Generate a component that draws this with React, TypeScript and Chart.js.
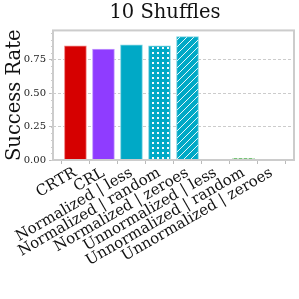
import React, { useEffect, useRef } from 'react';
import { Chart, registerables } from 'chart.js';
Chart.register(...registerables);

const chartTitle = '10 Shuffles';
const yTitle = 'Success Rate';
const categories = [
  'CRTR',
  'CRL',
  'Normalized | less',
  'Normalized | random',
  'Normalized | zeroes',
  'Unnormalized | less',
  'Unnormalized | random',
  'Unnormalized | zeroes',
];
const successRate = [0.855, 0.83, 0.863, 0.855, 0.923, 0, 0.012, 0];
const yTicks = [0, 0.25, 0.5, 0.75];
const yMinorStep = 0.05;
const baseColors = ['#d60000', '#8f3cff', '#00a9c6', '#00a9c6', '#00a9c6', '#4cb04c', '#4cb04c', '#4cb04c'];
const edgeColors = ['#f08080', '#c49bff', '#7fd4e2', '#7fd4e2', '#7fd4e2', '#a5d8a5', '#a5d8a5', '#a5d8a5'];
const patterns = ['solid', 'solid', 'solid', 'dots', 'hatch', 'solid', 'dots', 'hatch'];

function makePattern(kind: string, color: string): CanvasPattern | string {
  if (kind === 'solid') return color;
  const c = document.createElement('canvas');
  const ctx = c.getContext('2d')!;
  if (kind === 'dots') {
    c.width = 5; c.height = 5;
    ctx.fillStyle = color; ctx.fillRect(0, 0, 5, 5);
    ctx.fillStyle = 'rgba(255,255,255,0.95)';
    ctx.fillRect(2, 2, 2, 2);
  } else {
    c.width = 7; c.height = 7;
    ctx.fillStyle = color; ctx.fillRect(0, 0, 7, 7);
    ctx.strokeStyle = 'rgba(255,255,255,0.9)';
    ctx.lineWidth = 1;
    ctx.beginPath();
    ctx.moveTo(-1, 8); ctx.lineTo(8, -1);
    ctx.moveTo(-1, 1); ctx.lineTo(1, -1);
    ctx.moveTo(6, 8); ctx.lineTo(8, 6);
    ctx.stroke();
  }
  return ctx.createPattern(c, 'repeat')!;
}

const framePlugin = {
  id: 'frame',
  afterLayout(chart: any) {
    const t = chart.titleBlock;
    if (t) t.right = t.right - 17;
  },
  afterDraw(chart: any) {
    const { ctx, chartArea } = chart;
    const y = chart.scales.y;
    ctx.save();
    ctx.strokeStyle = '#cccccc';
    ctx.lineWidth = 1;
    ctx.beginPath();
    for (let v = 0; v <= y.max + 1e-9; v += yMinorStep) {
      const py = Math.round(y.getPixelForValue(v)) + 0.5;
      ctx.moveTo(chartArea.left - 2, py);
      ctx.lineTo(chartArea.left, py);
    }
    ctx.stroke();
    ctx.lineWidth = 2;
    ctx.strokeRect(chartArea.left, chartArea.top, chartArea.right - chartArea.left, chartArea.bottom - chartArea.top);
    ctx.restore();
  },
};

export default function App() {
  const ref = useRef<HTMLCanvasElement>(null);
  useEffect(() => {
    document.body.style.margin = '0';
    const bg = successRate.map((_, i) => makePattern(patterns[i], baseColors[i]));
    const chart = new Chart(ref.current!, {
      type: 'bar',
      data: {
        datasets: [
          {
            data: successRate.map((v, i) => ({ x: i, y: v })),
            backgroundColor: bg as any,
            borderColor: edgeColors,
            borderWidth: 1,
            barThickness: 22,
          },
        ],
      },
      plugins: [framePlugin],
      options: {
        animation: false,
        responsive: false,
        devicePixelRatio: 1,
        layout: { padding: { left: 0, right: 5, top: 0, bottom: 0 } },
        plugins: {
          legend: { display: false },
          tooltip: { enabled: false },
          title: {
            display: true,
            fullSize: false,
            text: chartTitle,
            color: '#111',
            font: { family: 'DejaVu Serif', size: 19.5, weight: 'normal', lineHeight: 1.15 },
            padding: { top: 2, bottom: 6 },
          },
        },
        scales: {
          x: {
            type: 'linear',
            offset: false,
            min: -0.8,
            max: 7.8,
            afterBuildTicks: (scale: any) => {
              scale.ticks = categories.map((_, i) => ({ value: i }));
            },
            afterFit: (scale: any) => {
              scale.height = 139;
              scale.paddingLeft = 0;
              scale.paddingRight = 0;
            },
            ticks: {
              autoSkip: false,
              maxRotation: 30,
              minRotation: 30,
              color: '#111',
              padding: 0,
              font: { family: 'DejaVu Serif', size: 15 },
              callback: (v: any) => categories[v as number] ?? '',
            },
            grid: { drawOnChartArea: false, tickLength: 4, tickColor: '#bbbbbb' },
            border: { display: false },
          },
          y: {
            min: 0,
            max: 0.97,
            afterBuildTicks: (scale: any) => {
              scale.ticks = yTicks.map((v) => ({ value: v }));
            },
            afterFit: (scale: any) => { scale.width = 53; },
            ticks: {
              color: '#222',
              padding: 3,
              font: { family: 'DejaVu Serif', size: 10 },
              callback: (v: any) => Number(v).toFixed(2),
            },
            title: {
              display: true,
              text: yTitle,
              color: '#111',
              font: { family: 'DejaVu Serif', size: 19.5, lineHeight: 1.1 },
              padding: { top: 4, bottom: 0 },
            },
            grid: { color: '#cccccc', tickLength: 4, tickColor: '#bbbbbb' },
            border: { display: false, dash: [3, 2] },
          },
        },
      },
    });
    return () => chart.destroy();
  }, []);
  return (
    <div style={{ width: 299, height: 299 }}>
      <canvas ref={ref} width={299} height={299} style={{ display: 'block' }} />
    </div>
  );
}
